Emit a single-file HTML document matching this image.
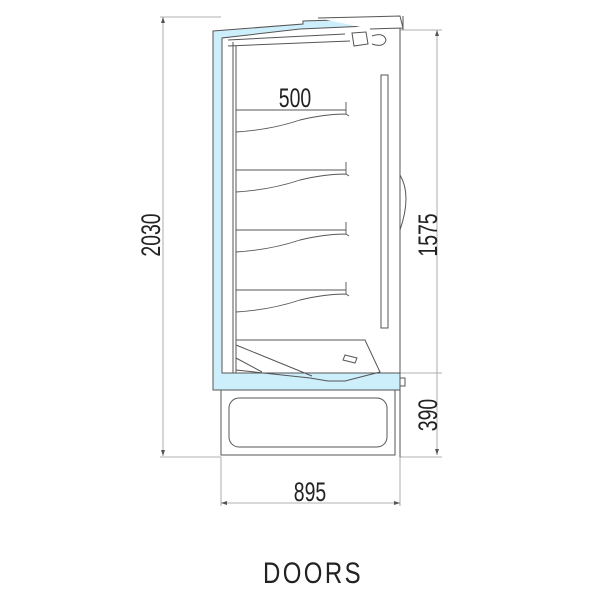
<!DOCTYPE html>
<html><head><style>body{margin:0;background:#fff}svg{display:block}</style></head><body>
<svg width="600" height="600" viewBox="0 0 600 600" xmlns="http://www.w3.org/2000/svg" font-family="Liberation Sans, sans-serif">
<g stroke="#999" stroke-width="0.8" fill="none">
<line x1="160" y1="17" x2="221" y2="17"/><line x1="163" y1="17" x2="163" y2="456"/><line x1="160" y1="457" x2="221" y2="457"/>
<line x1="400" y1="30" x2="442" y2="30"/><line x1="437" y1="30" x2="437" y2="455"/><line x1="400" y1="373" x2="442" y2="373"/><line x1="400" y1="457" x2="442" y2="457"/>
<line x1="221" y1="457" x2="221" y2="506"/><line x1="400" y1="457" x2="400" y2="506"/><line x1="221" y1="503" x2="400" y2="503"/>
</g>
<g fill="#555"><path d="M163 17l-2 6h4z"/><path d="M163 456l-2-6h4z"/><path d="M437 30l-2 6h4z"/><path d="M437 455l-2-6h4z"/><path d="M221 503l6-2v4z"/><path d="M400 503l-6-2v4z"/></g>
<path d="M213 31 L303 24 L303 21 L368 19 L368 26 L300 29 L222 38 L222 373 L400 373 L400 390 L213 390 Z" fill="#cdeefb" stroke="#555" stroke-width="1"/>
<path d="M318 18 L400 16 L403 28 L370 29" fill="#fff" stroke="#555" stroke-width="1"/>
<g stroke="#555" stroke-width="1" fill="none">
<line x1="400" y1="28" x2="400" y2="390"/>
<line x1="403" y1="16" x2="403" y2="30"/>
<path d="M352 33 L366 32 L368 44 L354 46 Z"/>
<path d="M372 36 Q384 32 386 40 Q384 48 372 44"/>
<line x1="228" y1="40" x2="345" y2="34"/><line x1="228" y1="46" x2="350" y2="41"/>
<line x1="233" y1="42" x2="233" y2="373"/><line x1="236" y1="46" x2="236" y2="373"/>
<rect x="381" y="75" width="7" height="253" fill="#fff"/>
<path d="M400 175 Q412 195 400 230"/>
<path d="M236 340 L365 340 L380 372 L345 381 L328 381 L310 378 L236 370 Z"/>
<line x1="236" y1="345" x2="312" y2="376"/>
<line x1="236" y1="358" x2="262" y2="372"/>
<path d="M345 355 l12 3 -2 5 -12-3 z"/>
<rect x="221" y="390" width="174" height="65"/>
<rect x="229" y="398" width="158" height="49" rx="10"/>
<line x1="400" y1="390" x2="400" y2="457"/>
<rect x="400" y="378" width="5" height="8"/>
</g>
<g stroke="#555" stroke-width="0.9" fill="none">
<path d="M236 110 H346 M236 132 Q270 130 300 120 Q325 114 346 114 M346 102 V114 l3 2"/>
<path d="M236 170 H346 M236 192 Q270 190 300 180 Q325 174 346 174 M346 162 V174 l3 2"/>
<path d="M236 230 H346 M236 252 Q270 250 300 240 Q325 234 346 234 M346 222 V234 l3 2"/>
<path d="M236 290 H346 M236 312 Q270 310 300 300 Q325 294 346 294 M346 282 V294 l3 2"/>
</g>
<g fill="#222" font-size="27">
<text transform="translate(295,107) scale(0.72,1)" text-anchor="middle">500</text>
<text transform="translate(310,501) scale(0.72,1)" text-anchor="middle">895</text>
<text transform="translate(160,235) rotate(-90) scale(0.72,1)" text-anchor="middle">2030</text>
<text transform="translate(437,235) rotate(-90) scale(0.72,1)" text-anchor="middle">1575</text>
<text transform="translate(437,415) rotate(-90) scale(0.72,1)" text-anchor="middle">390</text>
<text transform="translate(313,583) scale(0.8,1)" text-anchor="middle" font-size="30" letter-spacing="3">DOORS</text>
</g>
</svg>
</body></html>
